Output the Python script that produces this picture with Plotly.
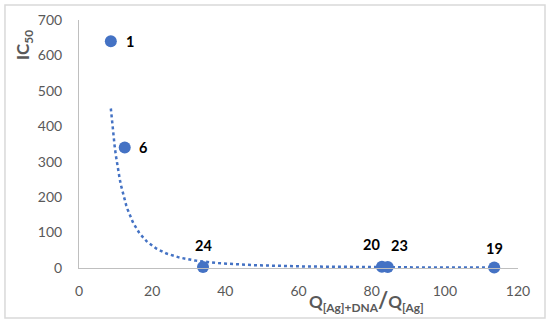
import numpy as np
import plotly.graph_objects as go

ratio = [8.7, 12.5, 33.9, 82.8, 84.4, 113.5]
ic50 = [640, 340, 2.5, 3.5, 2.5, 1.5]
labels = ["1", "6", "24", "20", "23", "19"]
# label offsets (pixels) relative to each point
label_dx = [19, 18, 0, -10, 12, 0]
label_dy = [0, 0, 22, 22, 22, 19]

# power trendline fitted to the data (as in spreadsheet "power" trendline)
b, lna = np.polyfit(np.log(ratio), np.log(ic50), 1)
xt = np.linspace(min(ratio), max(ratio), 300)
yt = np.exp(lna) * xt ** b

blue = "#4472C4"
fig = go.Figure()
fig.add_trace(go.Scatter(x=xt, y=yt, mode="lines",
                         line=dict(color=blue, width=2.5, dash="dot"),
                         hoverinfo="skip", showlegend=False, cliponaxis=False))
fig.add_trace(go.Scatter(x=ratio, y=ic50, mode="markers",
                         marker=dict(color=blue, size=12),
                         showlegend=False, cliponaxis=False))

grey = "#595959"
annots = [
    dict(text="<b>IC<sub>50</sub></b>", xref="paper", yref="paper",
         x=-0.125, y=0.90, xanchor="center", yanchor="middle",
         textangle=-90, showarrow=False,
         font=dict(family="Lato", size=17, color=grey)),
    dict(text="<b>Q<sub>[Ag]+DNA</sub><span style='font-size:22px'>/</span>Q<sub>[Ag]</sub></b>",
         xref="paper", yref="paper", x=0.655, y=-0.13, yanchor="middle",
         showarrow=False,
         font=dict(family="Lato", size=17, color=grey)),
]
for xv, yv, t, dx, dy in zip(ratio, ic50, labels, label_dx, label_dy):
    annots.append(dict(x=xv, y=yv, xref="x", yref="y", text="<b>" + t + "</b>",
                       showarrow=False, xshift=dx, yshift=dy,
                       xanchor="center", yanchor="middle",
                       font=dict(family="Lato", size=14.5, color="black")))

fig.update_layout(
    width=550, height=324,
    margin=dict(l=79, r=32, t=20, b=56, autoexpand=False),
    paper_bgcolor="white", plot_bgcolor="white",
    font=dict(family="Lato", size=14, color=grey),
    xaxis=dict(range=[0, 120], dtick=20, showgrid=False, zeroline=False,
               showline=True, linecolor="#bfbfbf", linewidth=1,
               ticks="", ticklabelstandoff=10, automargin=False,
               tickfont=dict(family="Lato", size=14, color=grey)),
    yaxis=dict(range=[0, 700], dtick=100, showgrid=False, zeroline=False,
               showline=True, linecolor="#bfbfbf", linewidth=1,
               ticks="", ticklabelstandoff=13, automargin=False,
               tickfont=dict(family="Lato", size=14, color=grey)),
    shapes=[dict(type="rect", xref="paper", yref="paper",
                 x0=-0.1686, x1=1.0615, y0=-0.2016, y1=1.0605,
                 line=dict(color="#d9d9d9", width=1.5), layer="above")],
    annotations=annots,
)
fig.write_html("out.html", config={"displayModeBar": False},
               post_script="document.body.style.margin='0';document.body.style.overflow='hidden';")
